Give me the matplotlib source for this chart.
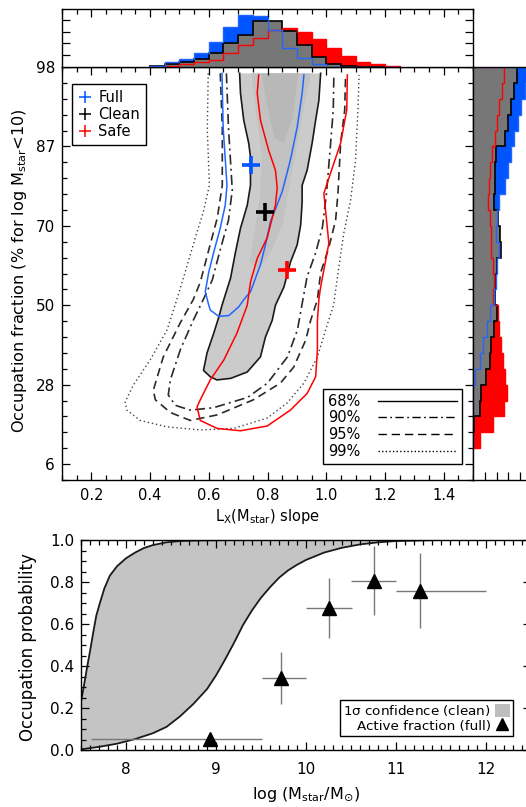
import matplotlib
matplotlib.use("Agg")
import numpy as np
import matplotlib.pyplot as plt
from matplotlib.lines import Line2D
from matplotlib.patches import Patch
from matplotlib.ticker import MultipleLocator, FixedLocator

plt.rcParams['font.family'] = ['DejaVu Sans']
plt.rcParams['font.size'] = 10.5
plt.rcParams['mathtext.default'] = 'regular'

# ------------------------------------------------------------------ data
# main panel: y axis is an index position, labelled by occupation fraction (%)
occ_tick_pos = [0, 1, 2, 3, 4, 5]
occ_tick_labels = ['6', '28', '50', '70', '87', '98']

# clean sample, 68% region (filled)
clean68_x = [0.705, 0.708, 0.719, 0.736, 0.742, 0.742, 0.731, 0.708, 0.691, 0.674, 0.645, 0.634, 0.617,
             0.594, 0.582, 0.605, 0.628, 0.675, 0.731, 0.776, 0.793, 0.816, 0.827, 0.856, 0.878, 0.901,
             0.913, 0.918, 0.918, 0.935, 0.952, 0.964, 0.975, 0.981]
clean68_y = [4.92, 4.67, 4.33, 4.04, 3.87, 3.51, 3.26, 2.97, 2.67, 2.34, 2.00, 1.85, 1.65,
             1.40, 1.18, 1.10, 1.06, 1.08, 1.16, 1.35, 1.60, 1.81, 2.00, 2.23, 2.54, 2.76,
             3.01, 3.30, 3.51, 3.70, 4.04, 4.33, 4.58, 4.92]
# darker inner shading of the clean 68% region
clean_inner_x = [0.745, 0.762, 0.78, 0.775, 0.755, 0.74, 0.77, 0.815, 0.85, 0.875, 0.9, 0.925, 0.948]
clean_inner_y = [4.92, 4.40, 3.90, 3.40, 2.90, 2.55, 2.45, 2.70, 3.00, 3.50, 4.00, 4.50, 4.92]
clean_core_x = [0.78, 0.80, 0.825, 0.855, 0.885, 0.905]
clean_core_y = [4.92, 4.50, 4.10, 4.05, 4.35, 4.92]

# full sample 68%
full68_x = [0.645, 0.649, 0.662, 0.656, 0.639, 0.617, 0.600, 0.588, 0.600, 0.605, 0.634, 0.668,
            0.702, 0.719, 0.742, 0.776, 0.793, 0.810, 0.850, 0.878, 0.901, 0.918, 0.924]
full68_y = [4.92, 4.24, 3.51, 3.26, 2.97, 2.67, 2.42, 2.17, 2.00, 1.94, 1.86, 1.87,
            1.98, 2.07, 2.17, 2.51, 2.76, 3.05, 3.43, 3.83, 4.24, 4.67, 4.90]

# safe sample 68%
safe68_x = [0.770, 0.765, 0.776, 0.804, 0.827, 0.833, 0.827, 0.799, 0.765, 0.742, 0.731, 0.719,
            0.696, 0.651, 0.605, 0.571, 0.560, 0.571, 0.628, 0.708, 0.799, 0.878, 0.935, 0.964,
            0.970, 0.970, 0.975, 0.981, 1.009, 0.992, 1.018, 1.049, 1.070, 1.072]
safe68_y = [4.90, 4.67, 4.33, 3.95, 3.70, 3.48, 3.26, 2.85, 2.59, 2.29, 2.00, 1.88,
            1.65, 1.31, 1.06, 0.81, 0.72, 0.55, 0.45, 0.42, 0.48, 0.68, 0.89, 1.10,
            1.44, 1.81, 2.07, 2.23, 2.78, 3.41, 3.70, 4.04, 4.46, 4.90]

# clean sample 90%, 95%, 99%
clean90_x = [0.660, 0.667, 0.680, 0.667, 0.639, 0.612, 0.581, 0.547, 0.503, 0.469, 0.462, 0.486,
             0.537, 0.616, 0.732, 0.800, 0.868, 0.902, 0.919, 0.935, 0.964, 0.987, 1.001, 1.015,
             1.024, 1.026]
clean90_y = [4.92, 4.24, 3.45, 3.07, 2.70, 2.32, 2.07, 1.81, 1.44, 1.06, 0.87, 0.74,
             0.68, 0.71, 0.84, 1.02, 1.35, 1.69, 2.04, 2.36, 2.66, 2.98, 3.41, 4.04,
             4.46, 4.90]
clean95_x = [0.639, 0.646, 0.646, 0.629, 0.598, 0.571, 0.547, 0.503, 0.445, 0.411, 0.418, 0.469,
             0.537, 0.629, 0.752, 0.844, 0.889, 0.930, 0.947, 0.970, 0.981, 1.009, 1.032, 1.040,
             1.049, 1.063, 1.066]
clean95_y = [4.92, 4.24, 3.51, 3.10, 2.67, 2.29, 2.07, 1.78, 1.35, 0.93, 0.81, 0.65,
             0.55, 0.62, 0.81, 1.02, 1.22, 1.56, 1.81, 2.07, 2.41, 2.73, 3.07, 3.41,
             4.04, 4.46, 4.90]
clean99_x = [0.598, 0.595, 0.602, 0.581, 0.554, 0.527, 0.496, 0.458, 0.400, 0.343, 0.315, 0.321,
             0.366, 0.457, 0.571, 0.685, 0.799, 0.867, 0.924, 0.970, 0.998, 1.025, 1.043, 1.060,
             1.083, 1.100, 1.108, 1.112]
clean99_y = [4.92, 4.21, 3.51, 3.17, 2.85, 2.51, 2.13, 1.69, 1.31, 0.995, 0.78, 0.68,
             0.55, 0.47, 0.43, 0.45, 0.58, 0.77, 1.02, 1.35, 1.69, 2.00, 2.48, 2.91,
             3.32, 3.83, 4.46, 4.90]

# best-fit points
best_names = ['Full', 'Clean', 'Safe']
best_slope = [0.745, 0.793, 0.867]
best_occ = [3.77, 3.17, 2.45]

# top histogram (slope marginals)
top_edges = [0.40, 0.45, 0.50, 0.55, 0.60, 0.65, 0.70, 0.75, 0.80, 0.85, 0.90, 0.95, 1.00,
             1.05, 1.10, 1.15, 1.20, 1.25]
full_top = [0.08, 0.40, 0.68, 1.16, 2.15, 3.42, 4.41, 4.30, 3.14, 1.64, 0.73, 0.23, 0.03, 0, 0, 0, 0]
clean_top = [0.08, 0.23, 0.40, 0.68, 1.16, 2.00, 2.71, 3.93, 3.93, 3.05, 1.86, 0.88, 0.23, 0.06, 0, 0, 0]
safe_top = [0, 0.08, 0.23, 0.40, 0.59, 1.16, 1.86, 2.49, 3.15, 3.35, 2.97, 2.38, 1.65, 0.92, 0.46,
            0.24, 0.08]

# right histogram (occupation marginals), bins bottom -> top
right_edges = [0.2, 0.4, 0.6, 0.8, 1.0, 1.2, 1.4, 1.6, 1.8, 2.0, 2.2, 2.4, 2.6, 2.8, 3.0, 3.2,
               3.4, 3.6, 3.8, 4.0, 4.2, 4.4, 4.6, 4.8, 5.0]
clean_right = [0.0, 0.12, 0.6, 0.7, 1.1, 1.45, 1.55, 1.8, 2.06, 1.84, 1.98, 2.06, 2.35, 2.26, 2.12,
               1.75, 1.84, 1.9, 1.98, 2.68, 2.97, 3.25, 3.5, 3.7]
full_right = [0, 0, 0, 0, 0.2, 0.56, 0.88, 1.22, 1.45, 1.78, 1.92, 2.0, 2.18, 1.98, 2.06, 2.18,
              2.68, 3.0, 3.19, 3.47, 3.8, 4.1, 4.4, 4.6]
safe_right = [0.56, 1.7, 2.6, 2.9, 2.75, 2.55, 2.4, 2.2, 2.1, 1.7, 1.78, 1.72, 1.55, 1.5, 1.41,
              1.27, 1.33, 1.41, 1.64, 1.84, 2.06, 2.2, 2.45, 2.65]

# bottom panel: occupation probability band (1 sigma, clean)
band_upper_mass = [7.5, 7.53, 7.57, 7.60, 7.64, 7.67, 7.71, 7.76, 7.82, 7.9, 8.0, 8.1, 8.2, 8.3,
                   8.45, 8.6, 8.8, 9.2, 12.5]
band_upper_prob = [0.23, 0.30, 0.40, 0.47, 0.57, 0.64, 0.70, 0.77, 0.83, 0.875, 0.913, 0.94, 0.962,
                   0.976, 0.989, 0.995, 0.998, 1.0, 1.0]
band_lower_mass = [7.5, 7.7, 7.9, 8.1, 8.3, 8.45, 8.6, 8.75, 8.9, 9.0, 9.1, 9.2, 9.3, 9.4, 9.5,
                   9.6, 9.7, 9.8, 9.9, 10.0, 10.2, 10.4, 10.6, 10.8, 11.0, 11.5, 12.5]
band_lower_prob = [0.003, 0.015, 0.03, 0.052, 0.08, 0.11, 0.16, 0.22, 0.29, 0.355, 0.43, 0.51,
                   0.595, 0.665, 0.725, 0.775, 0.82, 0.855, 0.882, 0.905, 0.94, 0.963, 0.979,
                   0.989, 0.995, 1.0, 1.0]

# active fraction (full)
act_mass = [8.93, 9.72, 10.26, 10.75, 11.27]
act_frac = [0.052, 0.344, 0.675, 0.805, 0.759]
act_mass_lo = [7.61, 9.51, 10.0, 10.5, 11.0]
act_mass_hi = [9.51, 10.0, 10.51, 11.0, 12.0]
act_frac_lo = [0.052, 0.218, 0.532, 0.643, 0.583]
act_frac_hi = [0.052, 0.465, 0.818, 0.971, 0.937]

# ------------------------------------------------------------------ figure
W, H = 526, 807
fig = plt.figure(figsize=(W / 100, H / 100), dpi=100)


def box(l, t, r, b):
    return [l / W, 1 - b / H, (r - l) / W, (b - t) / H]


BLUE_FILL = '#0055ff'
BLUE_LINE = '#2266ff'
RED = '#ff0000'
GRAYH = '#777777'

ax = fig.add_axes(box(62, 67, 473, 480))
axt = fig.add_axes(box(62, 9, 473, 67))
axr = fig.add_axes(box(473, 67, 532, 480))
axb = fig.add_axes(box(81, 540, 531, 750))

for a in (ax, axt, axr, axb):
    for s in a.spines.values():
        s.set_linewidth(1.0)
    a.tick_params(which='both', direction='in', width=0.9)
    a.tick_params(which='major', length=6)
    a.tick_params(which='minor', length=3.5)

# ---------------- main panel
ax.fill(clean68_x, clean68_y, color='#cbcbcb', lw=0, zorder=1)
ax.fill(clean_inner_x, clean_inner_y, color='#c2c2c2', lw=0, zorder=1.1)
ax.fill(clean_core_x, clean_core_y, color='#b8b8b8', lw=0, zorder=1.2)
ax.plot(clean68_x, clean68_y, color='#1a1a1a', lw=1.2, zorder=3)
ax.plot(clean90_x, clean90_y, color='#2a2a2a', lw=1.2, ls=(0, (6, 2.5, 1.2, 2.5)), zorder=3)
ax.plot(clean95_x, clean95_y, color='#2a2a2a', lw=1.2, ls=(0, (5, 3)), zorder=3)
ax.plot(clean99_x, clean99_y, color='#444444', lw=1.0, ls=(0, (1, 2)), zorder=3)
ax.plot(full68_x, full68_y, color=BLUE_LINE, lw=1.1, zorder=4)
ax.plot(safe68_x, safe68_y, color=RED, lw=1.1, zorder=4)

best_cols = [BLUE_FILL, 'black', RED]
for sx, sy, c in zip(best_slope, best_occ, best_cols):
    ax.plot([sx], [sy], marker='+', color=c, markersize=13, mew=2.6, ls='none', zorder=6)

ax.set_xlim(0.1, 1.5)
ax.set_ylim(-0.2, 5.0)
ax.xaxis.set_major_locator(FixedLocator([0.2, 0.4, 0.6, 0.8, 1.0, 1.2, 1.4]))
ax.xaxis.set_minor_locator(MultipleLocator(0.05))
ax.set_xticklabels(['0.2', '0.4', '0.6', '0.8', '1.0', '1.2', '1.4'])
ax.yaxis.set_major_locator(FixedLocator(occ_tick_pos))
ax.set_yticklabels(occ_tick_labels)
ax.yaxis.set_minor_locator(MultipleLocator(0.2))
ax.tick_params(which='both', top=True, right=True)
ax.tick_params(axis='x', pad=6)
ax.tick_params(axis='y', pad=5, labelsize=11)

h1 = [Line2D([], [], ls='none', marker='+', color=c, markersize=9, mew=1.1) for c in best_cols]
leg1 = ax.legend(h1, best_names, loc='upper left', bbox_to_anchor=(10 / 411, 1 - 17 / 413),
                 borderaxespad=0, fancybox=False, edgecolor='black', framealpha=1,
                 handlelength=1.0, handletextpad=0.4, labelspacing=0.15, borderpad=0.4,
                 fontsize=10.5)
leg1.get_frame().set_linewidth(1.0)
ax.add_artist(leg1)

h2 = [Line2D([], [], color='black', lw=1.0, ls='-'),
      Line2D([], [], color='black', lw=1.0, ls=(0, (6, 2.5, 1.2, 2.5))),
      Line2D([], [], color='black', lw=1.0, ls=(0, (6, 3.5))),
      Line2D([], [], color='black', lw=1.0, ls=(0, (1, 1.6)))]
leg2 = ax.legend(h2, ['68%', '90%', '95%', '99%'], loc='lower right',
                 bbox_to_anchor=((462 - 62) / 411, 1 - (464 - 67) / 413), borderaxespad=0,
                 markerfirst=False, handlelength=5.4, handletextpad=1.2, labelspacing=0.12,
                 borderpad=0.35, fancybox=False, edgecolor='black', framealpha=1, fontsize=10.5)
leg2.get_frame().set_linewidth(1.0)

fig.text(267.5 / W, 1 - 517 / H, r'L$_X$(M$_{\mathrm{star}}$) slope', ha='center', va='center',
         fontsize=10.5)
fig.text(20 / W, 1 - 271 / H, r'Occupation fraction (% for log M$_{\mathrm{star}}$<10)',
         ha='center', va='center', rotation=90, fontsize=11.6)

# ---------------- top histogram
axt.stairs(full_top, top_edges, fill=True, color=BLUE_FILL, lw=0)
axt.stairs(safe_top, top_edges, fill=True, color=RED, lw=0)
axt.stairs(clean_top, top_edges, fill=True, color=GRAYH, lw=0)
axt.stairs(clean_top, top_edges, color='black', lw=1.2)
axt.stairs(safe_top, top_edges, color=RED, lw=1.0)
axt.stairs(full_top, top_edges, color=BLUE_LINE, lw=1.0)
axt.set_xlim(0.1, 1.5)
axt.set_ylim(0, 4.92)
axt.xaxis.set_major_locator(FixedLocator([0.2, 0.4, 0.6, 0.8, 1.0, 1.2, 1.4]))
axt.xaxis.set_minor_locator(MultipleLocator(0.05))
axt.yaxis.set_major_locator(FixedLocator([1, 2, 3, 4]))
axt.tick_params(which='both', top=True, bottom=False, right=True,
                labelbottom=False, labelleft=False)

# ---------------- right histogram
axr.stairs(full_right, right_edges, fill=True, color=BLUE_FILL, lw=0, orientation='horizontal')
axr.stairs(safe_right, right_edges, fill=True, color=RED, lw=0, orientation='horizontal')
axr.stairs(clean_right, right_edges, fill=True, color=GRAYH, lw=0, orientation='horizontal')
axr.stairs(clean_right, right_edges, color='black', lw=1.2, orientation='horizontal')
axr.stairs(safe_right, right_edges, color=RED, lw=1.0, orientation='horizontal')
axr.stairs(full_right, right_edges, color=BLUE_LINE, lw=1.0, orientation='horizontal')
axr.set_ylim(-0.2, 5.0)
axr.set_xlim(0, 5)
axr.xaxis.set_major_locator(FixedLocator([1, 2, 3, 4]))
axr.yaxis.set_major_locator(FixedLocator(occ_tick_pos))
axr.tick_params(which='both', left=False, bottom=True, labelbottom=False, labelleft=False)

# ---------------- bottom panel
band_mass = list(band_upper_mass) + list(band_lower_mass[::-1])
band_prob = list(band_upper_prob) + list(band_lower_prob[::-1])
axb.fill(band_mass, band_prob, color='#c4c4c4', lw=0, zorder=1)
axb.plot(band_upper_mass, band_upper_prob, color='#1a1a1a', lw=1.3, zorder=2)
axb.plot(band_lower_mass, band_lower_prob, color='#1a1a1a', lw=1.3, zorder=2)

am = np.array(act_mass)
af = np.array(act_frac)
xerr = [am - np.array(act_mass_lo), np.array(act_mass_hi) - am]
yerr = [af - np.array(act_frac_lo), np.array(act_frac_hi) - af]
axb.errorbar(am, af, xerr=xerr, yerr=yerr, fmt='none', ecolor='#777777', elinewidth=1.0,
             capsize=0, zorder=3)
axb.plot(am, af, ls='none', marker='^', color='black', markersize=10, zorder=4)

axb.set_xlim(7.5, 12.5)
axb.set_ylim(0.0, 1.0)
axb.xaxis.set_major_locator(MultipleLocator(1))
axb.xaxis.set_minor_locator(MultipleLocator(0.1))
axb.yaxis.set_major_locator(MultipleLocator(0.2))
axb.yaxis.set_minor_locator(MultipleLocator(0.05))
axb.yaxis.set_major_formatter(matplotlib.ticker.FormatStrFormatter('%.1f'))
axb.tick_params(which='both', top=True, right=True)
axb.tick_params(axis='x', pad=9, labelsize=11)
axb.tick_params(axis='y', pad=5, labelsize=11)

h3 = [Patch(facecolor='#bdbdbd', edgecolor='none'),
      Line2D([], [], ls='none', marker='^', color='black', markersize=9)]
leg3 = axb.legend(h3, [r'1$\sigma$ confidence (clean)', 'Active fraction (full)'],
                  loc='lower right', bbox_to_anchor=((513 - 81) / 450, (750 - 736) / 210),
                  borderaxespad=0, markerfirst=False, handlelength=1.1, handleheight=1.1,
                  handletextpad=0.3, labelspacing=0.05, borderpad=0.25, fancybox=False,
                  edgecolor='black', framealpha=1, fontsize=9.7)
leg3.get_frame().set_linewidth(1.0)

fig.text(306 / W, 1 - 795 / H, r'log (M$_{\mathrm{star}}$/M$_{\odot}$)', ha='center', va='center',
         fontsize=11.5)
fig.text(28 / W, 1 - 647 / H, 'Occupation probability', ha='center', va='center', rotation=90,
         fontsize=12)

fig.savefig('out.png', dpi=100)
